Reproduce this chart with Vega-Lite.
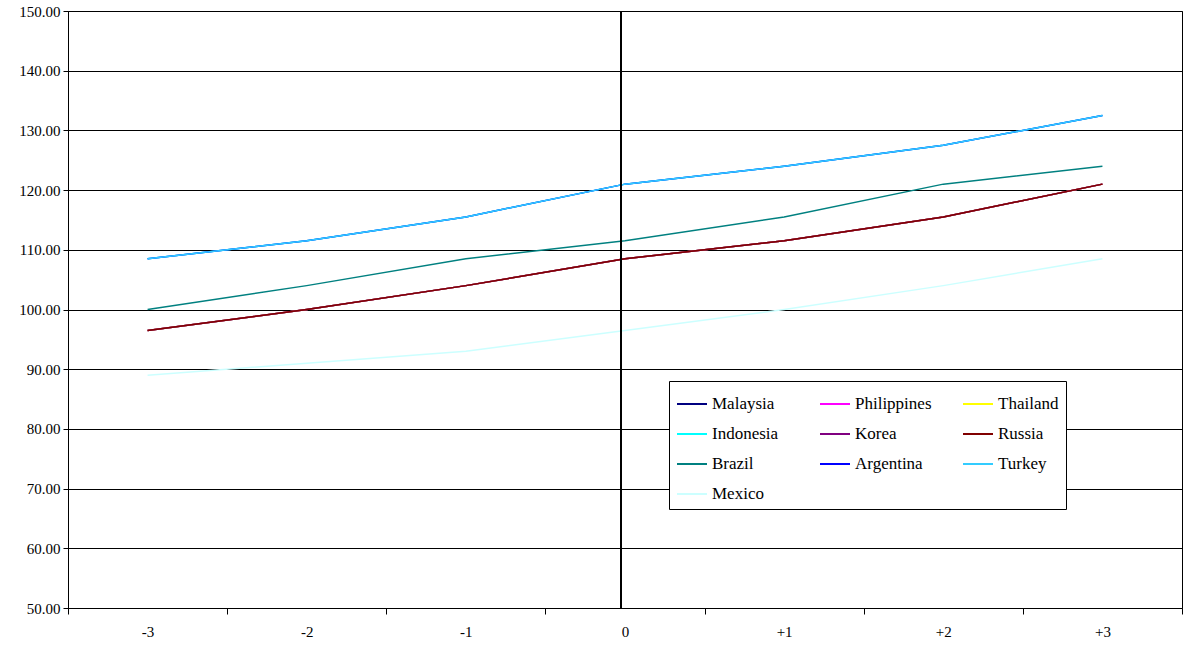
{
  "$schema": "https://vega.github.io/schema/vega-lite/v6.json",
  "width": 1114,
  "height": 597,
  "padding": {"left": 68, "top": 11, "right": 1, "bottom": 40},
  "autosize": "none",
  "config": {
    "view": {"stroke": "black"},
    "font": "Liberation Serif",
    "axis": {"labelFont": "Liberation Serif", "labelFontSize": 15, "labelColor": "black"}
  },
  "data": {
    "values": [
      {"k": "-3", "c": "Malaysia", "v": 96.5}, {"k": "-2", "c": "Malaysia", "v": 100}, {"k": "-1", "c": "Malaysia", "v": 104}, {"k": "0", "c": "Malaysia", "v": 108.5}, {"k": "+1", "c": "Malaysia", "v": 111.5}, {"k": "+2", "c": "Malaysia", "v": 115.5}, {"k": "+3", "c": "Malaysia", "v": 121},
      {"k": "-3", "c": "Philippines", "v": 96.5}, {"k": "-2", "c": "Philippines", "v": 100}, {"k": "-1", "c": "Philippines", "v": 104}, {"k": "0", "c": "Philippines", "v": 108.5}, {"k": "+1", "c": "Philippines", "v": 111.5}, {"k": "+2", "c": "Philippines", "v": 115.5}, {"k": "+3", "c": "Philippines", "v": 121},
      {"k": "-3", "c": "Thailand", "v": 96.5}, {"k": "-2", "c": "Thailand", "v": 100}, {"k": "-1", "c": "Thailand", "v": 104}, {"k": "0", "c": "Thailand", "v": 108.5}, {"k": "+1", "c": "Thailand", "v": 111.5}, {"k": "+2", "c": "Thailand", "v": 115.5}, {"k": "+3", "c": "Thailand", "v": 121},
      {"k": "-3", "c": "Indonesia", "v": 108.5}, {"k": "-2", "c": "Indonesia", "v": 111.5}, {"k": "-1", "c": "Indonesia", "v": 115.5}, {"k": "0", "c": "Indonesia", "v": 121}, {"k": "+1", "c": "Indonesia", "v": 124}, {"k": "+2", "c": "Indonesia", "v": 127.5}, {"k": "+3", "c": "Indonesia", "v": 132.5},
      {"k": "-3", "c": "Korea", "v": 96.5}, {"k": "-2", "c": "Korea", "v": 100}, {"k": "-1", "c": "Korea", "v": 104}, {"k": "0", "c": "Korea", "v": 108.5}, {"k": "+1", "c": "Korea", "v": 111.5}, {"k": "+2", "c": "Korea", "v": 115.5}, {"k": "+3", "c": "Korea", "v": 121},
      {"k": "-3", "c": "Russia", "v": 96.5}, {"k": "-2", "c": "Russia", "v": 100}, {"k": "-1", "c": "Russia", "v": 104}, {"k": "0", "c": "Russia", "v": 108.5}, {"k": "+1", "c": "Russia", "v": 111.5}, {"k": "+2", "c": "Russia", "v": 115.5}, {"k": "+3", "c": "Russia", "v": 121},
      {"k": "-3", "c": "Brazil", "v": 100}, {"k": "-2", "c": "Brazil", "v": 104}, {"k": "-1", "c": "Brazil", "v": 108.5}, {"k": "0", "c": "Brazil", "v": 111.5}, {"k": "+1", "c": "Brazil", "v": 115.5}, {"k": "+2", "c": "Brazil", "v": 121}, {"k": "+3", "c": "Brazil", "v": 124},
      {"k": "-3", "c": "Argentina", "v": 108.5}, {"k": "-2", "c": "Argentina", "v": 111.5}, {"k": "-1", "c": "Argentina", "v": 115.5}, {"k": "0", "c": "Argentina", "v": 121}, {"k": "+1", "c": "Argentina", "v": 124}, {"k": "+2", "c": "Argentina", "v": 127.5}, {"k": "+3", "c": "Argentina", "v": 132.5},
      {"k": "-3", "c": "Turkey", "v": 108.5}, {"k": "-2", "c": "Turkey", "v": 111.5}, {"k": "-1", "c": "Turkey", "v": 115.5}, {"k": "0", "c": "Turkey", "v": 121}, {"k": "+1", "c": "Turkey", "v": 124}, {"k": "+2", "c": "Turkey", "v": 127.5}, {"k": "+3", "c": "Turkey", "v": 132.5},
      {"k": "-3", "c": "Mexico", "v": 89}, {"k": "-2", "c": "Mexico", "v": 91}, {"k": "-1", "c": "Mexico", "v": 93}, {"k": "0", "c": "Mexico", "v": 96.5}, {"k": "+1", "c": "Mexico", "v": 100}, {"k": "+2", "c": "Mexico", "v": 104}, {"k": "+3", "c": "Mexico", "v": 108.5}
    ]
  },
  "layer": [
    {
      "mark": {"type": "line", "strokeWidth": 1.5},
      "encoding": {
        "x": {"field": "k", "type": "ordinal", "sort": ["-3", "-2", "-1", "0", "+1", "+2", "+3"],
          "scale": {"type": "band", "paddingInner": 0, "paddingOuter": 0},
          "axis": {"title": null, "labelAngle": 0, "domain": false, "tickBand": "extent", "tickColor": "black", "tickSize": 6, "labelPadding": 10}},
        "y": {"field": "v", "type": "quantitative", "scale": {"domain": [50, 150]},
          "axis": {"title": null, "format": ".2f", "tickCount": 10, "gridColor": "black", "gridOpacity": 1, "domainColor": "black", "tickColor": "black", "tickSize": 5, "labelPadding": 3}},
        "color": {"field": "c", "type": "nominal", "sort": null,
          "scale": {"domain": ["Malaysia", "Philippines", "Thailand", "Indonesia", "Korea", "Russia", "Brazil", "Argentina", "Turkey", "Mexico"],
            "range": ["#000080", "#FF00FF", "#FFFF00", "#00FFFF", "#800080", "#800000", "#008080", "#0000FF", "#33CCFF", "#CCFFFF"]},
          "legend": {"title": null, "orient": "none", "legendX": 601, "legendY": 370, "columns": 3, "direction": "horizontal",
            "values": ["Malaysia", "Philippines", "Thailand", "Indonesia", "Korea", "Russia", "Brazil", "Argentina", "Turkey", "Mexico"],
            "symbolType": "stroke", "symbolSize": 900, "symbolStrokeWidth": 2, "labelFont": "Liberation Serif", "labelFontSize": 17, "labelColor": "black", "strokeColor": "black", "fillColor": "white", "padding": 7, "rowPadding": 6, "columnPadding": 27, "gridAlign": "all", "labelLimit": 200}}
      }
    },
    {
      "mark": {"type": "rule", "color": "black", "strokeWidth": 1},
      "encoding": {"x": {"datum": "0", "type": "ordinal", "bandPosition": 0.475}}
    }
  ]
}
